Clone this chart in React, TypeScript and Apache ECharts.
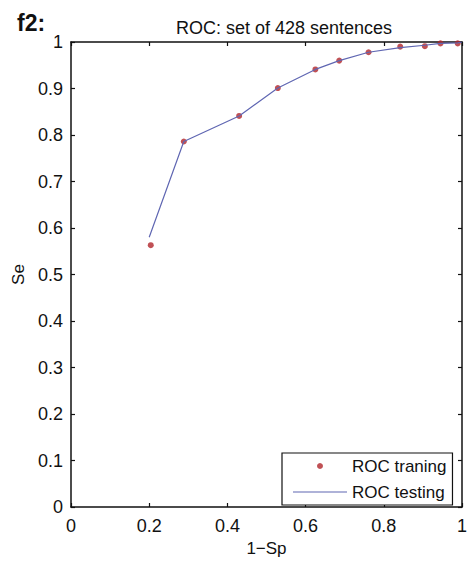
import React, { useEffect, useRef } from "react";
import * as echarts from "echarts";

const trainFpr = [0.204, 0.2885, 0.43, 0.529, 0.625, 0.686, 0.761, 0.842, 0.905, 0.945, 0.989];
const trainSe = [0.563, 0.786, 0.841, 0.901, 0.941, 0.96, 0.978, 0.99, 0.991, 0.997, 0.997];
const testFpr = [0.2, 0.2885, 0.43, 0.529, 0.625, 0.686, 0.761, 0.842, 0.905, 0.945, 0.989, 1.0];
const testSe = [0.58, 0.786, 0.841, 0.901, 0.941, 0.96, 0.978, 0.988, 0.993, 0.997, 0.998, 1.0];

const figLabel = "f2:";
const titleText = "ROC: set of 428 sentences";
const xName = "1\u2212Sp";
const yName = "Se";
const trainName = "ROC traning";
const testName = "ROC testing";

const FONT = "'Liberation Sans', Arial, Helvetica, sans-serif";
const TXT = "#111111";
const LINE_COLOR = "#5f66b2";

export default function App() {
  const ref = useRef<HTMLDivElement>(null);
  useEffect(() => {
    if (!ref.current) return;
    const chart = echarts.init(ref.current, null, { renderer: "svg" });
    const mkLine = () => ({ show: true, onZero: false, lineStyle: { color: "#111", width: 1.5 } });
    const mkTick = () => ({ show: true, inside: true, length: 4, lineStyle: { color: "#111", width: 1.2 } });
    chart.setOption({
      animation: false,
      backgroundColor: "#ffffff",
      title: [
        {
          text: figLabel,
          left: 12,
          top: 6,
          textStyle: { fontFamily: FONT, fontSize: 23, fontWeight: "bold", color: TXT },
        },
        {
          text: titleText,
          left: 279,
          top: 14,
          textAlign: "center",
          textStyle: { fontFamily: FONT, fontSize: 18, fontWeight: "normal", color: TXT },
        },
      ],
      grid: { left: 71, right: 1, top: 42, bottom: 56, containLabel: false },
      xAxis: [
        {
          type: "value",
          min: 0,
          max: 1,
          interval: 0.2,
          position: "bottom",
          name: xName,
          nameLocation: "middle",
          nameGap: 30,
          nameTextStyle: { fontFamily: FONT, fontSize: 17, color: TXT },
          axisLine: mkLine(),
          axisTick: mkTick(),
          splitLine: { show: false },
          axisLabel: { fontFamily: FONT, fontSize: 18, color: TXT, margin: 10 },
        },
        {
          type: "value",
          min: 0,
          max: 1,
          interval: 0.2,
          position: "top",
          axisLine: mkLine(),
          axisTick: mkTick(),
          splitLine: { show: false },
          axisLabel: { show: false },
        },
      ],
      yAxis: [
        {
          type: "value",
          min: 0,
          max: 1,
          interval: 0.1,
          position: "left",
          name: yName,
          nameLocation: "middle",
          nameGap: 42,
          nameTextStyle: { fontFamily: FONT, fontSize: 17, color: TXT },
          axisLine: mkLine(),
          axisTick: mkTick(),
          splitLine: { show: false },
          axisLabel: { fontFamily: FONT, fontSize: 18, color: TXT, margin: 8 },
        },
        {
          type: "value",
          min: 0,
          max: 1,
          interval: 0.1,
          position: "right",
          axisLine: mkLine(),
          axisTick: mkTick(),
          splitLine: { show: false },
          axisLabel: { show: false },
        },
      ],
      legend: {
        orient: "vertical",
        left: 282,
        top: 453,
        padding: [3, 6, 3, 11],
        itemGap: 6,
        itemWidth: 54,
        itemHeight: 6,
        borderColor: "#111",
        borderWidth: 1.2,
        backgroundColor: "#ffffff",
        textStyle: { fontFamily: FONT, fontSize: 17, color: TXT, lineHeight: 20 },
        data: [
          { name: trainName, icon: "circle" },
          {
            name: testName,
            icon: "path://M0,0L45,0L45,1L0,1Z",
            itemStyle: { color: LINE_COLOR, borderWidth: 0 },
          },
        ],
      },
      series: [
        {
          name: trainName,
          type: "scatter",
          xAxisIndex: 0,
          yAxisIndex: 0,
          symbol: "circle",
          symbolSize: 6,
          itemStyle: { color: "#b0262a" },
          data: trainFpr.map((x, i) => [x, trainSe[i]]),
          z: 2,
        },
        {
          name: testName,
          type: "line",
          xAxisIndex: 0,
          yAxisIndex: 0,
          symbol: "none",
          showSymbol: false,
          lineStyle: { color: LINE_COLOR, width: 1.2 },
          itemStyle: { color: LINE_COLOR },
          data: testFpr.map((x, i) => [x, testSe[i]]),
          z: 3,
        },
      ],
    });
    return () => chart.dispose();
  }, []);
  return (
    <div
      ref={ref}
      style={{ position: "fixed", left: 0, top: 0, width: 470, height: 563, background: "#fff" }}
    />
  );
}
